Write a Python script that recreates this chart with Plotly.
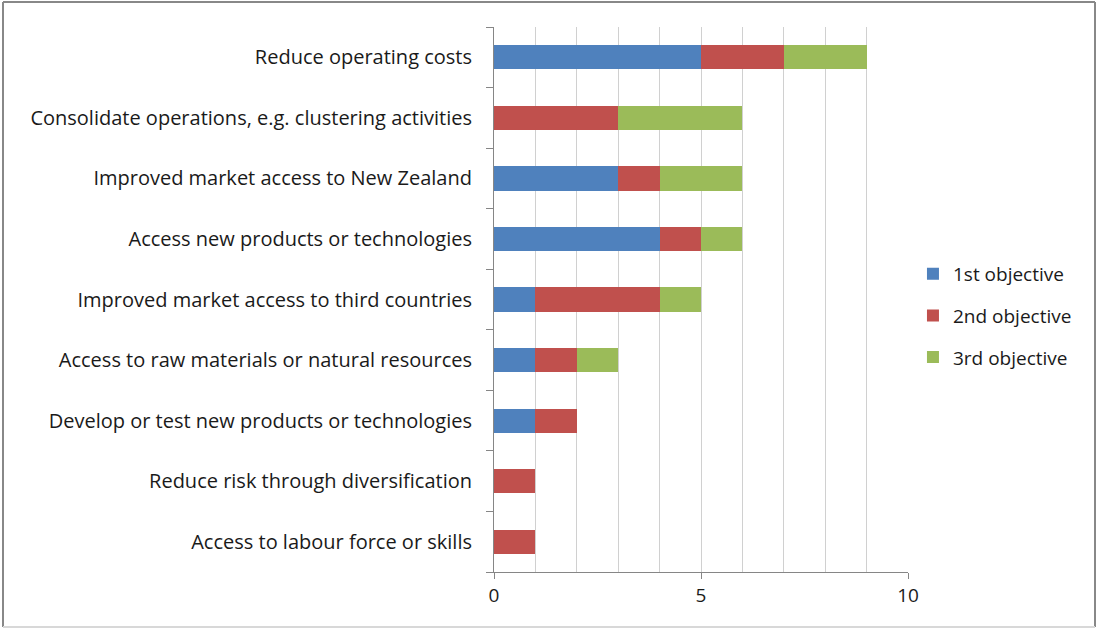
import plotly.graph_objects as go

categories = [
    "Reduce operating costs",
    "Consolidate operations, e.g. clustering activities",
    "Improved market access to New Zealand",
    "Access new products or technologies",
    "Improved market access to third countries",
    "Access to raw materials or natural resources",
    "Develop or test new products or technologies",
    "Reduce risk through diversification",
    "Access to labour force or skills",
]
first_objective = [5, 0, 3, 4, 1, 1, 1, 0, 0]
second_objective = [2, 3, 1, 1, 3, 1, 1, 1, 1]
third_objective = [2, 3, 2, 1, 1, 1, 0, 0, 0]

series = [
    ("1st objective", first_objective, "#4F81BD"),
    ("2nd objective", second_objective, "#C0504D"),
    ("3rd objective", third_objective, "#9BBB59"),
]

W, H = 1096, 628
L, R, T, B = 494, 188, 27, 56

fig = go.Figure()
for name, vals, color in series:
    fig.add_trace(go.Bar(
        y=categories, x=vals, name=name, orientation="h",
        legendgroup=name,
        marker=dict(color=color, line=dict(width=0)),
        width=0.4,
    ))

font_family = "Open Sans, Liberation Sans, Arial, sans-serif"
fig.update_layout(
    width=W, height=H,
    margin=dict(l=L, r=R, t=T, b=B, autoexpand=False),
    barmode="stack",
    plot_bgcolor="white", paper_bgcolor="white",
    font=dict(family=font_family, size=19, color="#1a1a1a"),
    showlegend=True,
    legend=dict(
        x=1.012, y=0.47, xanchor="left", yanchor="middle",
        font=dict(size=19), itemwidth=30, traceorder="grouped",
        tracegroupgap=14,
        bgcolor="rgba(0,0,0,0)",
    ),
    bargap=0.6,
)
fig.update_xaxes(
    range=[0, 10], dtick=5, tick0=0,
    showgrid=True, gridcolor="#D0D0D0", gridwidth=1,
    minor=dict(dtick=1, showgrid=True, gridcolor="#D0D0D0", gridwidth=1),
    showline=True, linecolor="#868686", linewidth=1,
    ticks="outside", ticklen=6, tickcolor="#868686",
    tickfont=dict(size=19), zeroline=False,
)
fig.update_yaxes(
    categoryorder="array", categoryarray=categories[::-1],
    showline=True, linecolor="#868686", linewidth=1,
    ticks="outside", ticklen=7, tickcolor="#868686",
    tickson="boundaries", ticklabelstandoff=17,
    tickfont=dict(size=20),
    showgrid=False,
)

# chart frame
def px_x(p):
    return (p - L) / (W - L - R)

def px_y(p):
    return 1 - (p - T) / (H - T - B)

frame = [
    (3, 2, 3, 627, "#888888", 2),
    (3, 2, 1095, 2, "#888888", 2),
    (1095, 2, 1095, 627, "#888888", 2),
    (3, 627, 1095, 627, "#D8D8D8", 2),
]
for x0, y0, x1, y1, c, w in frame:
    fig.add_shape(type="line", xref="paper", yref="paper",
                  x0=px_x(x0), y0=px_y(y0), x1=px_x(x1), y1=px_y(y1),
                  line=dict(color=c, width=w))

fig.write_html("out.html")
